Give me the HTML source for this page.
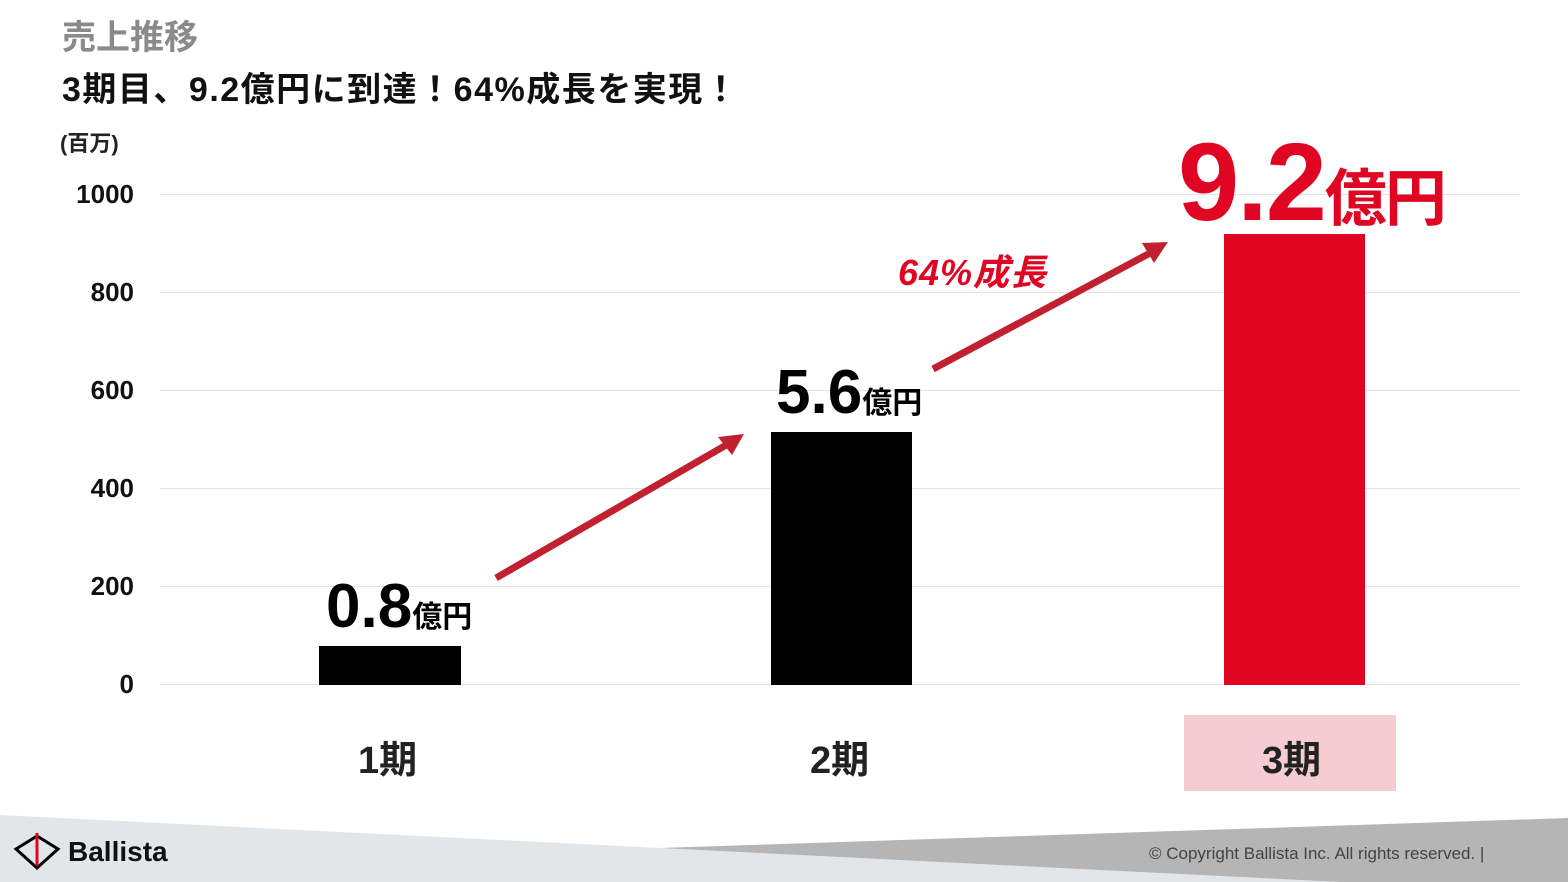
<!DOCTYPE html>
<html><head><meta charset="utf-8"><style>
body{margin:0;width:1568px;height:882px;background:#fff;position:relative;overflow:hidden;font-family:"Liberation Sans","Noto Sans CJK JP",sans-serif;font-weight:bold}
.a{position:absolute;white-space:nowrap}
.g{position:absolute;left:160px;width:1360px;height:1px;background:#e4e4e4}
.y{position:absolute;right:1434px;font-size:26px;color:#111;text-align:right}
.bar{position:absolute}
</style></head><body>
<div class="a" style="left:62px;top:10px;font-size:34px;color:#8a8a8a">売上推移</div>
<div class="a" style="left:62px;top:62px;font-size:34px;color:#111;letter-spacing:1.5px">3期目、9.2億円に到達！64%成長を実現！</div>
<div class="a" style="left:60px;top:126px;font-size:22px;color:#222">(百万)</div>
<div class="g" style="top:194px"></div><div class="g" style="top:292px"></div><div class="g" style="top:390px"></div><div class="g" style="top:488px"></div><div class="g" style="top:586px"></div><div class="g" style="top:684px"></div>
<div class="y" style="top:179px">1000</div><div class="y" style="top:277px">800</div><div class="y" style="top:375px">600</div><div class="y" style="top:473px">400</div><div class="y" style="top:571px">200</div><div class="y" style="top:669px">0</div>
<div class="bar" style="left:319px;top:646px;width:142px;height:39px;background:#000"></div>
<div class="bar" style="left:771px;top:432px;width:141px;height:253px;background:#000"></div>
<div class="bar" style="left:1224px;top:234px;width:141px;height:451px;background:#e00522"></div>
<div class="a" style="left:326px;top:572px;font-size:62px;color:#000;line-height:70px">0.8<span style="font-size:30px">億円</span></div>
<div class="a" style="left:776px;top:358px;font-size:62px;color:#000;line-height:70px">5.6<span style="font-size:30px">億円</span></div>
<div class="a" style="left:1178px;top:128px;font-size:110px;color:#e00522;line-height:110px;letter-spacing:-2px">9.2<span style="font-size:62px">億円</span></div>
<div class="a" style="left:898px;top:244px;font-size:36px;color:#e00522;font-style:italic;letter-spacing:1px">64%成長</div>
<svg class="a" style="left:0;top:0" width="1568" height="882">
<line x1="496" y1="578" x2="728" y2="444" stroke="#c0202f" stroke-width="7"/><polygon points="744,434 718,437 732,455" fill="#c0202f"/>
<line x1="933" y1="369" x2="1152" y2="252" stroke="#c0202f" stroke-width="7"/><polygon points="1168,242 1142,243 1154,263" fill="#c0202f"/>
<polygon points="0,815 660,848 1340,882 0,882" fill="#e2e6e9"/>
<polygon points="660,848 1568,818 1568,882 1340,882" fill="#b5b5b5"/>
<polygon points="16,849 37,836 58,849 37,868" fill="none" stroke="#000" stroke-width="3"/>
<line x1="37" y1="833" x2="37" y2="866" stroke="#e00522" stroke-width="3"/>
</svg>
<div class="a" style="left:1184px;top:715px;width:212px;height:76px;background:#f5ccd2"></div>
<div class="a" style="left:358px;top:729px;font-size:38px;color:#222">1期</div>
<div class="a" style="left:810px;top:729px;font-size:38px;color:#222">2期</div>
<div class="a" style="left:1262px;top:729px;font-size:38px;color:#222">3期</div>
<div class="a" style="left:68px;top:836px;font-size:28px;color:#111">Ballista</div>
<div class="a" style="left:1149px;top:844px;font-size:17px;color:#444;font-weight:normal">© Copyright Ballista Inc. All rights reserved. |</div>
</body></html>
